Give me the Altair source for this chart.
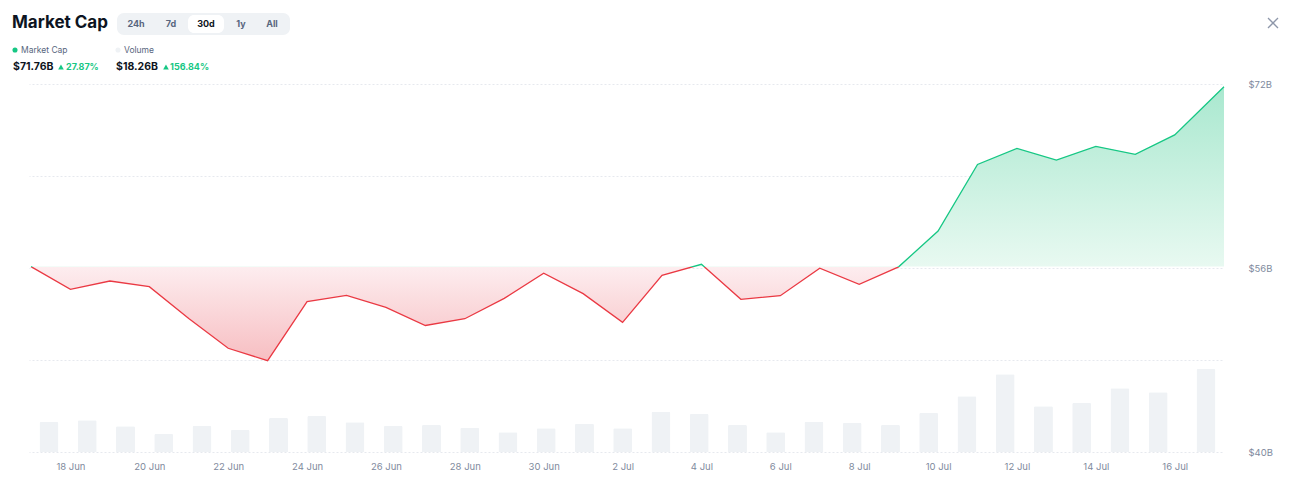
import altair as alt
import pandas as pd

# ---------------- data ----------------
dates = [
    "2024-06-17T00:00", "2024-06-18T00:00", "2024-06-19T00:00", "2024-06-20T00:00",
    "2024-06-21T00:00", "2024-06-22T00:00", "2024-06-23T00:00", "2024-06-24T00:00",
    "2024-06-25T00:00", "2024-06-26T00:00", "2024-06-27T00:00", "2024-06-28T00:00",
    "2024-06-29T00:00", "2024-06-30T00:00", "2024-07-01T00:00", "2024-07-02T00:00",
    "2024-07-03T00:00", "2024-07-04T00:00", "2024-07-05T00:00", "2024-07-06T00:00",
    "2024-07-07T00:00", "2024-07-08T00:00", "2024-07-09T00:00", "2024-07-10T00:00",
    "2024-07-11T00:00", "2024-07-12T00:00", "2024-07-13T00:00", "2024-07-14T00:00",
    "2024-07-15T00:00", "2024-07-16T00:00", "2024-07-17T06:00",
]
market_cap = [
    56.12, 54.15, 54.87, 54.38, 51.60, 49.02, 47.94, 53.07, 53.62, 52.58,
    51.00, 51.59, 53.36, 55.54, 53.77, 51.27, 55.36, 56.32, 53.28, 53.59,
    55.98, 54.58, 56.10, 59.22, 65.00, 66.40, 65.39, 66.58, 65.89, 67.57,
    71.76,
]
volume = [
    6.60, 6.97, 5.65, 3.96, 5.72, 4.84, 7.48, 7.92, 6.53, 5.72,
    5.94, 5.35, 4.33, 5.21, 6.23, 5.21, 8.87, 8.36, 5.94, 4.33,
    6.67, 6.38, 5.94, 8.58, 12.25, 17.09, 10.05, 10.78, 14.01, 13.13,
    18.26,
]
tick_days = [(6, 18), (6, 20), (6, 22), (6, 24), (6, 26), (6, 28), (6, 30),
             (7, 2), (7, 4), (7, 6), (7, 8), (7, 10), (7, 12), (7, 14), (7, 16)]
y_ticks = [40, 48, 56, 64, 72]

df = pd.DataFrame({"t": dates, "mcap": market_cap, "vol": volume})
base = market_cap[0]
df["base"] = base
frac = (max(market_cap) - base) / (max(market_cap) - min(market_cap))

GREEN = "#16c784"
RED = "#ea3943"
GRAY_TXT = "#58667e"
AXIS_TXT = "#808a9d"
FONT = "Inter"

W, H = 1217, 368
line_range = [13, 1206]
bar_range = [31, 1188]

x_vals = [alt.DateTime(year=2024, month=m, date=d) for m, d in tick_days]

yscale = alt.Scale(domain=[40, 72], nice=False, zero=False)

area = alt.Chart(df).mark_area(
    interpolate="linear",
    fill=alt.Gradient(
        gradient="linear", x1=0, x2=0, y1=0, y2=1,
        stops=[
            alt.GradientStop(color="#a9e8cf", offset=0),
            alt.GradientStop(color="#e8f9f1", offset=frac),
            alt.GradientStop(color="#fdedef", offset=frac),
            alt.GradientStop(color="#f7bec2", offset=1),
        ],
    ),
).encode(
    x=alt.X("t:T", scale=alt.Scale(range=line_range, nice=False), axis=None),
    y=alt.Y("mcap:Q", scale=yscale, axis=None),
    y2=alt.Y2("base:Q"),
)

line = alt.Chart(df).mark_line(
    interpolate="linear",
    strokeWidth=1.3,
    stroke=alt.Gradient(
        gradient="linear", x1=0, x2=0, y1=0, y2=1,
        stops=[
            alt.GradientStop(color=GREEN, offset=0),
            alt.GradientStop(color=GREEN, offset=frac),
            alt.GradientStop(color=RED, offset=frac),
            alt.GradientStop(color=RED, offset=1),
        ],
    ),
).encode(
    x=alt.X(
        "t:T",
        scale=alt.Scale(range=line_range, nice=False),
        axis=alt.Axis(
            values=x_vals, format="%-d %b", title=None, ticks=False, domain=False,
            grid=False, labelColor=AXIS_TXT, labelFont=FONT, labelFontSize=9.5,
            labelPadding=9, labelAngle=0,
        ),
    ),
    y=alt.Y(
        "mcap:Q",
        scale=yscale,
        axis=alt.Axis(
            orient="right", values=y_ticks, title=None, ticks=False, domain=False,
            labelExpr="(datum.value - 40) % 16 == 0 ? '$' + datum.value + 'B' : ''",
            labelColor=AXIS_TXT, labelFont=FONT, labelFontSize=9.5, labelPadding=13,
            grid=True, gridColor="#e6e9ee", gridDash=[2, 2], gridWidth=1,
        ),
    ),
)

bars = alt.Chart(df).mark_bar(
    width=19, color="#eff2f5", cornerRadiusTopLeft=1.5, cornerRadiusTopRight=1.5
).encode(
    x=alt.X("t:T", scale=alt.Scale(range=bar_range, nice=False, padding=0), axis=None),
    y=alt.Y("vol:Q", scale=alt.Scale(domain=[0, 81], nice=False), axis=None),
)

# ---------------- header decorations ----------------
one = pd.DataFrame({"k": [0]})
OX, OY = 18, 84  # plot origin on page


def txt(s, x, y, size, color, weight="normal", align="left"):
    return alt.Chart(one).mark_text(
        text=s, font=FONT, fontSize=size, color=color, fontWeight=weight,
        align=align, baseline="middle",
    ).encode(x=alt.value(x - OX), y=alt.value(y - OY))


def box(x1, x2, y1, y2, color, r):
    return alt.Chart(one).mark_rect(color=color, cornerRadius=r).encode(
        x=alt.value(x1 - OX), x2=alt.value(x2 - OX),
        y=alt.value(y1 - OY), y2=alt.value(y2 - OY),
    )


def dot(x, y, color, size):
    return alt.Chart(one).mark_point(filled=True, color=color, size=size, opacity=1).encode(
        x=alt.value(x - OX), y=alt.value(y - OY)
    )


def tri(x, y):
    return alt.Chart(one).mark_point(
        shape="triangle-up", filled=True, color=GREEN, size=32, opacity=1
    ).encode(x=alt.value(x - OX), y=alt.value(y - OY))


def seg(x1, y1, x2, y2):
    return alt.Chart(one).mark_rule(color="#8e97aa", strokeWidth=1.3).encode(
        x=alt.value(x1 - OX), y=alt.value(y1 - OY),
        x2=alt.value(x2 - OX), y2=alt.value(y2 - OY),
    )


deco = [
    txt("Market Cap", 12, 23, 17, "#0d1421", "bold"),
    box(117, 290, 13, 35, "#eff2f5", 7),
    box(188, 224, 15, 33, "#ffffff", 6),
    txt("24h", 136, 24, 9, GRAY_TXT, "bold", "center"),
    txt("7d", 171, 24, 9, GRAY_TXT, "bold", "center"),
    txt("30d", 206, 24, 9, "#0d1421", "bold", "center"),
    txt("1y", 241, 24, 9, GRAY_TXT, "bold", "center"),
    txt("All", 272, 24, 9, GRAY_TXT, "bold", "center"),
    dot(15, 50, GREEN, 26),
    txt("Market Cap", 21, 50, 8.5, GRAY_TXT),
    dot(118, 50, "#eff2f5", 26),
    txt("Volume", 124, 50, 8.5, GRAY_TXT),
    txt("$71.76B", 13, 67, 10.5, "#0d1421", "bold"),
    tri(61, 67),
    txt("27.87%", 66, 67, 9, GREEN, "bold"),
    txt("$18.26B", 116, 67, 10.5, "#0d1421", "bold"),
    tri(166, 67),
    txt("156.84%", 170, 67, 9, GREEN, "bold"),
    seg(1268, 18, 1278, 28),
    seg(1278, 18, 1268, 28),
]

chart = alt.layer(bars, area, line, *deco).resolve_scale(
    x="independent", y="independent"
).properties(
    width=W, height=H,
    autosize=alt.AutoSizeParams(type="none"),
    padding={"left": 10, "top": 76, "right": 54, "bottom": 38},
    background="#ffffff",
).configure_view(stroke=None)

chart.save("out.html", embed_options={"renderer": "svg", "actions": False})
